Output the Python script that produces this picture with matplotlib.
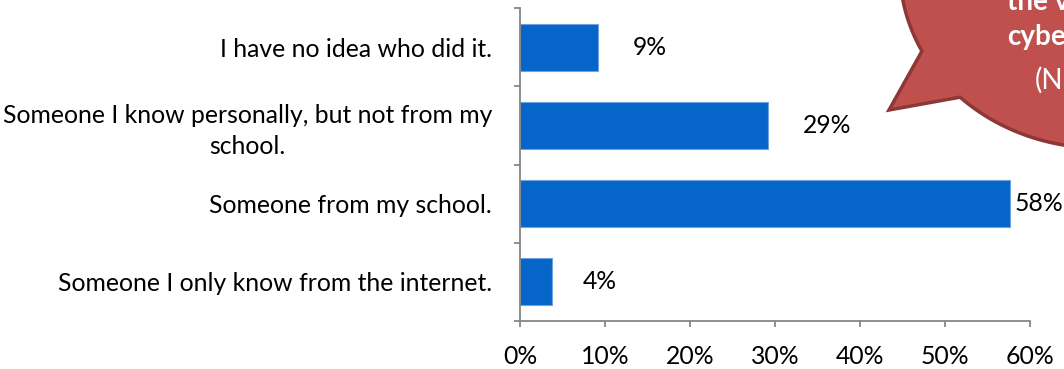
import matplotlib
matplotlib.use("Agg")
import matplotlib.pyplot as plt
import numpy as np
from matplotlib.patches import Polygon

plt.rcParams['font.family'] = ['Lato', 'DejaVu Sans']

# who did the cyberbullying (share of victims)
categories = [
    "I have no idea who did it.",
    "Someone I know personally, but not from my\nschool.",
    "Someone from my school.",
    "Someone I only know from the internet.",
]
shares = [0.092, 0.292, 0.577, 0.038]
# label offsets (pixels) as placed on the chart
label_dx = [52, 59, 4, 48]
label_ha = ['center', 'center', 'left', 'center']
xticks = [0.0, 0.1, 0.2, 0.3, 0.4, 0.5, 0.6]

FS = 17.8
W, H = 1064, 369
fig = plt.figure(figsize=(W / 100, H / 100), dpi=100)
fig.patch.set_facecolor('white')

def px(x, y):
    return (x / W, 1 - y / H)

l, b = px(520, 321)
r, t = px(1030, 8)
ax = fig.add_axes([l, b, r - l, t - b])

ypos = np.arange(len(categories))[::-1]
ax.barh(ypos, shares, height=0.6, color='#0565C8', edgecolor='#6fa3dc', linewidth=0.8, zorder=2)

for y, v, dx, ha in zip(ypos, shares, label_dx, label_ha):
    ax.annotate(f"{v:.0%}", xy=(v, y), xytext=(dx, 0), textcoords='offset pixels',
                ha=ha, va='center', fontsize=FS, color='black')

ax.set_xlim(0, 0.6)
ax.set_ylim(-0.5, len(categories) - 0.5)
ax.set_xticks(xticks)
ax.set_xticklabels([f"{x:.0%}" for x in xticks], fontsize=FS)
ax.set_yticks(np.arange(len(categories) + 1) - 0.5)
ax.set_yticklabels([])
ax.set_yticks(ypos, categories, minor=True, fontsize=FS)
for lab in ax.get_yticklabels(minor=True):
    lab.set_multialignment('center')
    lab.set_linespacing(1.4)

for s in ['top', 'right']:
    ax.spines[s].set_visible(False)
for s in ['left', 'bottom']:
    ax.spines[s].set_color('#868686')
    ax.spines[s].set_linewidth(1.3)
ax.tick_params(axis='both', which='major', direction='out', length=4.5, width=1.3, color='#868686')
ax.tick_params(axis='x', pad=13)
ax.tick_params(axis='y', which='minor', length=0, pad=20)

# speech bubble in the top right corner
cx, cy, a, bb = 1100, -30, 200, 178
t = np.radians(np.linspace(152.9, 494.4, 300))
pts = [px(cx + a * np.cos(tt), cy + bb * np.sin(tt)) for tt in t]
pts.append(px(889, 110))
bubble = Polygon(pts, closed=True, transform=fig.transFigure, facecolor='#C0504D',
                 edgecolor='#8C3836', linewidth=2.5, zorder=5)
fig.add_artist(bubble)

for txt, x, y, w in [("the victims of", 1007, 10, 'bold'),
                     ("cyberbullying", 1007, 45.5, 'bold'),
                     ("(N=45)", 1035, 89, 'normal')]:
    fig.text(*px(x, y), txt, color='white', fontsize=20, fontweight=w,
             ha='left', va='baseline', zorder=6)

fig.savefig('out.png', dpi=100)
